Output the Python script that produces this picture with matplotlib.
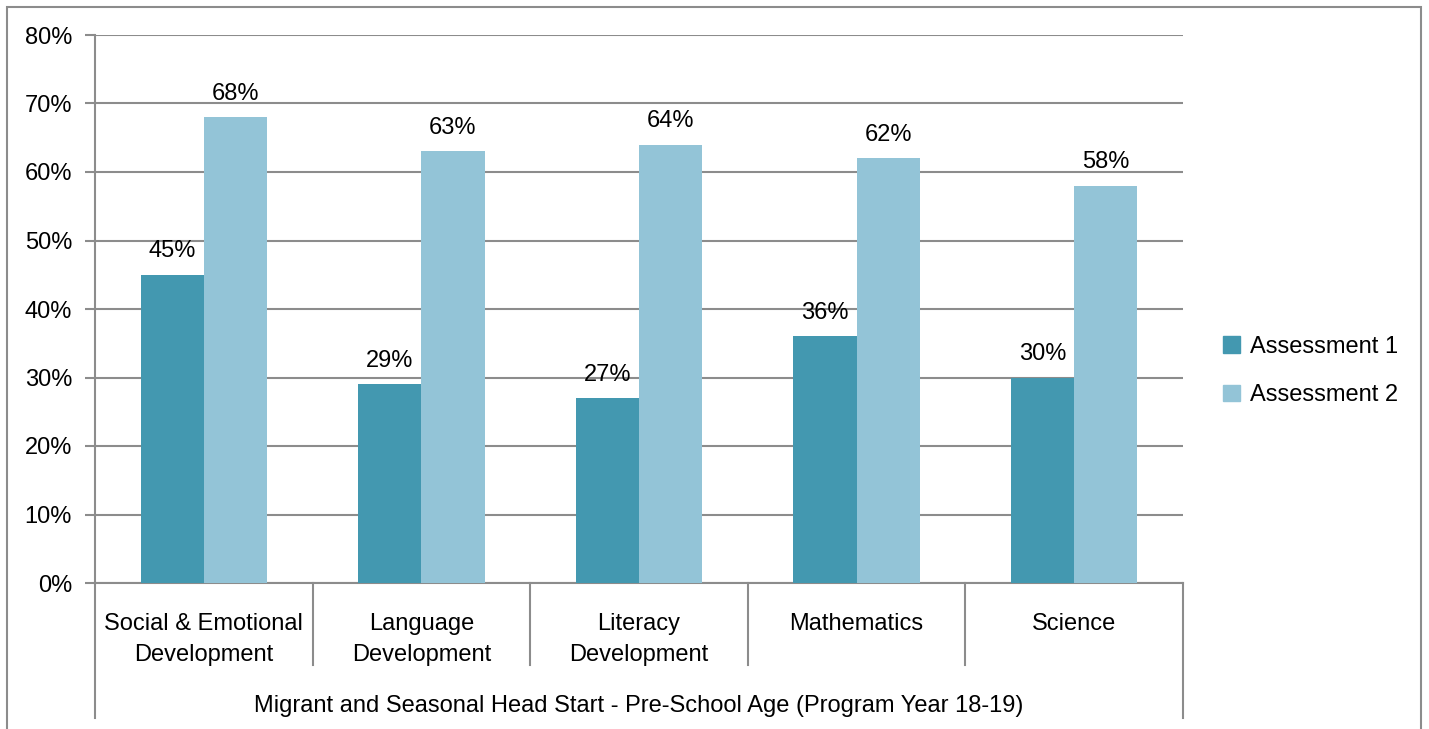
import numpy as np
import matplotlib
matplotlib.use('Agg')
import matplotlib.pyplot as plt
from matplotlib.patches import Rectangle, Patch
from matplotlib.lines import Line2D

# ===== Data =====
categories = ['Social & Emotional\nDevelopment', 'Language\nDevelopment',
              'Literacy\nDevelopment', 'Mathematics', 'Science']
assessment1 = [45, 29, 27, 36, 30]
assessment2 = [68, 63, 64, 62, 58]
series_names = ['Assessment 1', 'Assessment 2']
group_label = 'Migrant and Seasonal Head Start - Pre-School Age (Program Year 18-19)'
yticks = [0, 10, 20, 30, 40, 50, 60, 70, 80]

c1 = '#4398B0'
c2 = '#93C4D7'
grid_c = '#8C8C8C'
FS = 17

plt.rcParams['font.family'] = ['Liberation Sans', 'DejaVu Sans']
plt.rcParams['font.size'] = FS

W, H = 1429, 729
fig = plt.figure(figsize=(W / 100, H / 100), dpi=100)
ax = fig.add_axes([95 / W, 1 - 583 / H, (1183 - 95) / W, (583 - 35) / H])

x = np.arange(len(categories))
bw = 0.29
b1 = ax.bar(x - bw / 2, assessment1, bw, color=c1, zorder=3)
b2 = ax.bar(x + bw / 2, assessment2, bw, color=c2, zorder=3)

for bars, vals in ((b1, assessment1), (b2, assessment2)):
    for b, v in zip(bars, vals):
        ax.annotate(f'{v}%', (b.get_x() + b.get_width() / 2, v),
                    xytext=(0, 9), textcoords='offset points',
                    ha='center', va='bottom', fontsize=FS)

ax.set_xlim(-0.5, len(categories) - 0.5)
ax.set_ylim(0, 80)
ax.set_yticks(yticks)
ax.set_yticklabels([f'{t}%' for t in yticks])
ax.yaxis.grid(True, color=grid_c, linewidth=1.5, zorder=0)
ax.tick_params(axis='y', length=7.5, width=1.5, color=grid_c, pad=9, labelsize=FS)
ax.set_xticks([])
for s in ('top', 'right'):
    ax.spines[s].set_visible(False)
for s in ('left', 'bottom'):
    ax.spines[s].set_color(grid_c)
    ax.spines[s].set_linewidth(1.5)

# category labels and separators below the axis
trans = ax.get_xaxis_transform()
def fy(py):
    # figure pixel row -> axes fraction
    return (583 - py) / (583 - 35)

for i, cat in enumerate(categories):
    ax.text(i, fy(613), cat, transform=trans, ha='center', va='top',
            fontsize=FS, linespacing=1.55, clip_on=False)
for i in range(1, len(categories)):
    ax.add_line(Line2D([i - 0.5, i - 0.5], [0, fy(665)], transform=trans,
                       color=grid_c, linewidth=1.5, clip_on=False))
for xe in (-0.5, len(categories) - 0.5):
    ax.add_line(Line2D([xe, xe], [0, fy(718)], transform=trans,
                       color=grid_c, linewidth=1.5, clip_on=False))
ax.text((len(categories) - 1) / 2, fy(706), group_label, transform=trans,
        ha='center', va='center', fontsize=FS, clip_on=False)

# legend
handles = [Patch(color=c1), Patch(color=c2)]
fig.legend(handles, series_names, loc='center left',
           bbox_to_anchor=(1223 / W, 1 - 371 / H), frameon=False,
           borderpad=0, borderaxespad=0,
           handlelength=0.7, handleheight=0.7, handletextpad=0.45,
           labelspacing=1.12, fontsize=FS)

# outer chart frame
fig.add_artist(Rectangle((7 / W, -0.05), (1421 - 7) / W, 1.05 - 7 / H,
                         transform=fig.transFigure, fill=False,
                         edgecolor=grid_c, linewidth=1.5))

fig.savefig('out.png', dpi=100)
